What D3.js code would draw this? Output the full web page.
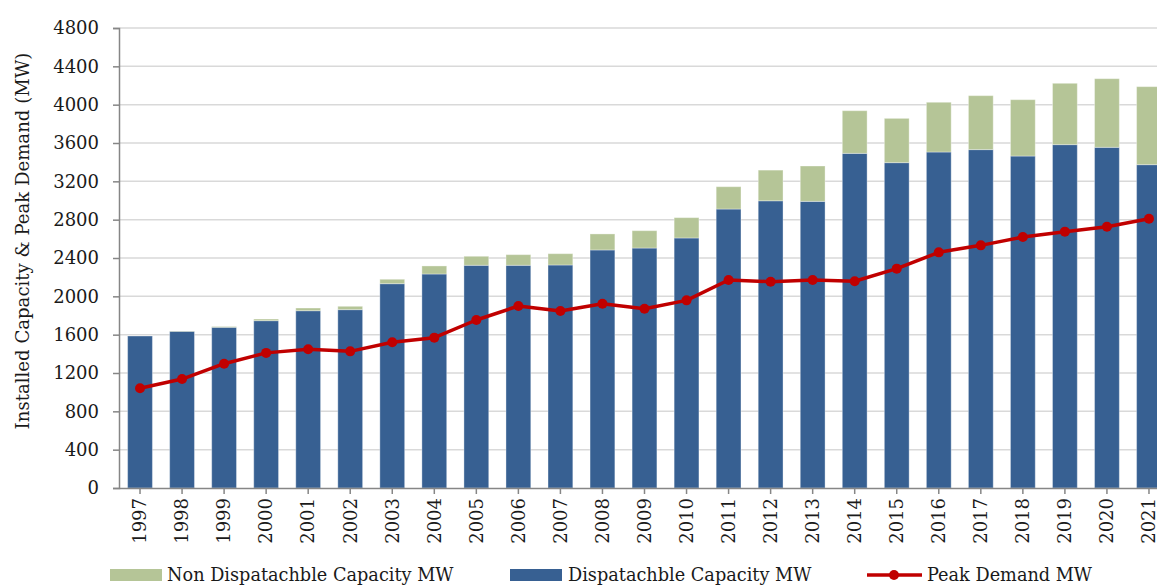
<!DOCTYPE html>
<html>
<head>
<meta charset="utf-8">
<script src="https://cdn.jsdelivr.net/npm/d3@7"></script>
<style>
  body { margin: 0; background: #fff; }
  svg { display: block; font-family: "DejaVu Serif", serif; }
</style>
</head>
<body>
<svg id="chart" width="1157" height="586"></svg>
<script>
let years = ["1997","1998","1999","2000","2001","2002","2003","2004","2005","2006","2007","2008",
             "2009","2010","2011","2012","2013","2014","2015","2016","2017","2018","2019","2020","2021"];
let dispatchable = [1586, 1635, 1677, 1746, 1850, 1861, 2132, 2233, 2324, 2324, 2327, 2484,
                    2504, 2609, 2911, 2997, 2991, 3492, 3395, 3506, 3531, 3464, 3583, 3555, 3374];
let nonDispatchable = [0, 3, 8, 17, 28, 35, 46, 84, 94, 111, 118, 167,
                       181, 212, 233, 320, 369, 445, 462, 519, 563, 588, 640, 716, 814];
let peakDemand = [1040, 1137, 1297, 1410, 1447, 1426, 1520, 1569, 1753, 1899, 1847, 1923,
                  1871, 1958, 2170, 2153, 2170, 2157, 2289, 2459, 2532, 2619, 2675, 2727, 2810];
let yTicks = [0, 400, 800, 1200, 1600, 2000, 2400, 2800, 3200, 3600, 4000, 4400, 4800];

let blue = "#376092", green = "#b5c597", red = "#c00000", axisGrey = "#868686", ink = "#1a1a1a";

let svg = d3.select("#chart");
let plotLeft = 119, plotTop = 28, plotBottom = 488;

let x = d3.scaleBand()
          .domain(years)
          .range([plotLeft, plotLeft + 25 * 42.04])
          .paddingInner(0.41)
          .paddingOuter(0.205);
let y = d3.scaleLinear()
          .domain([0, 4800])
          .range([plotBottom, plotTop]);

// gridlines
svg.append("g")
  .selectAll("line")
  .data(yTicks.filter(d => d > 0))
  .enter()
  .append("line")
  .attr("x1", plotLeft).attr("x2", 1157)
  .attr("y1", d => y(d)).attr("y2", d => y(d))
  .attr("stroke", "#d9d9d9")
  .attr("stroke-width", 1.5);

// stacked bars
let rows = years.map((yr, i) => ({year: yr, disp: dispatchable[i], non: nonDispatchable[i]}));
let stack = d3.stack().keys(["disp", "non"])(rows);
let colors = {disp: blue, non: green};

svg.append("g")
  .selectAll("g")
  .data(stack)
  .enter()
  .append("g")
  .attr("fill", s => colors[s.key])
  .selectAll("rect")
  .data(s => s)
  .enter()
  .append("rect")
  .attr("x", d => x(d.data.year))
  .attr("width", x.bandwidth())
  .attr("y", d => y(d[1]))
  .attr("height", d => y(d[0]) - y(d[1]))
  .attr("stroke", "rgba(255,255,255,0.35)")
  .attr("stroke-width", 1);

// y axis
let yAxis = svg.append("g")
  .attr("transform", `translate(${plotLeft},0)`)
  .call(d3.axisLeft(y).tickValues(yTicks).tickFormat(d3.format("d")).tickSize(6).tickPadding(14));
yAxis.select(".domain").attr("stroke", axisGrey).attr("stroke-width", 1.5);
yAxis.selectAll(".tick line").attr("stroke", axisGrey).attr("stroke-width", 1.5);
yAxis.selectAll("text")
  .attr("font-family", "DejaVu Serif")
  .attr("font-size", 18)
  .attr("fill", ink);

// x axis
let xAxis = svg.append("g")
  .attr("transform", `translate(0,${plotBottom})`)
  .call(d3.axisBottom(x).tickSize(6).tickSizeOuter(0));
xAxis.select(".domain").attr("stroke", axisGrey).attr("stroke-width", 1.5)
  .attr("d", `M${plotLeft},0.5H1157`);
xAxis.selectAll(".tick line").attr("stroke", axisGrey).attr("stroke-width", 1.5);
xAxis.selectAll("text")
  .attr("font-family", "DejaVu Serif")
  .attr("font-size", 18)
  .attr("fill", ink)
  .attr("transform", "rotate(-90)")
  .attr("text-anchor", "end")
  .attr("x", -10)
  .attr("y", 0)
  .attr("dy", "0.35em");

// peak demand line
let line = d3.line()
  .x((d, i) => x(years[i]) + x.bandwidth() / 2)
  .y(d => y(d));

svg.append("path")
  .datum(peakDemand)
  .attr("fill", "none")
  .attr("stroke", red)
  .attr("stroke-width", 3.5)
  .attr("stroke-linejoin", "round")
  .attr("d", line);

svg.append("g")
  .selectAll("circle")
  .data(peakDemand)
  .enter()
  .append("circle")
  .attr("cx", (d, i) => x(years[i]) + x.bandwidth() / 2)
  .attr("cy", d => y(d))
  .attr("r", 5)
  .attr("fill", red);

// y axis title
svg.append("text")
  .attr("transform", "translate(29,241) rotate(-90)")
  .attr("text-anchor", "middle")
  .attr("font-size", 18.1)
  .attr("fill", ink)
  .text("Installed Capacity & Peak Demand (MW)");

// legend
let legend = svg.append("g");
let ly = 575, baseY = 581, lsize = 17.7;
legend.append("rect").attr("x", 110).attr("y", ly - 6).attr("width", 52).attr("height", 12).attr("fill", green);
legend.append("text").attr("x", 167).attr("y", baseY).attr("font-size", lsize)
  .attr("fill", ink).text("Non Dispatachble Capacity MW");
legend.append("rect").attr("x", 510).attr("y", ly - 6).attr("width", 52).attr("height", 12).attr("fill", blue);
legend.append("text").attr("x", 568).attr("y", baseY).attr("font-size", lsize)
  .attr("fill", ink).text("Dispatachble Capacity MW");
legend.append("line").attr("x1", 867).attr("x2", 922).attr("y1", ly).attr("y2", ly)
  .attr("stroke", red).attr("stroke-width", 3.5);
legend.append("circle").attr("cx", 894).attr("cy", ly).attr("r", 5).attr("fill", red);
legend.append("text").attr("x", 927).attr("y", baseY).attr("font-size", lsize)
  .attr("fill", ink).text("Peak Demand MW");
</script>
</body>
</html>
